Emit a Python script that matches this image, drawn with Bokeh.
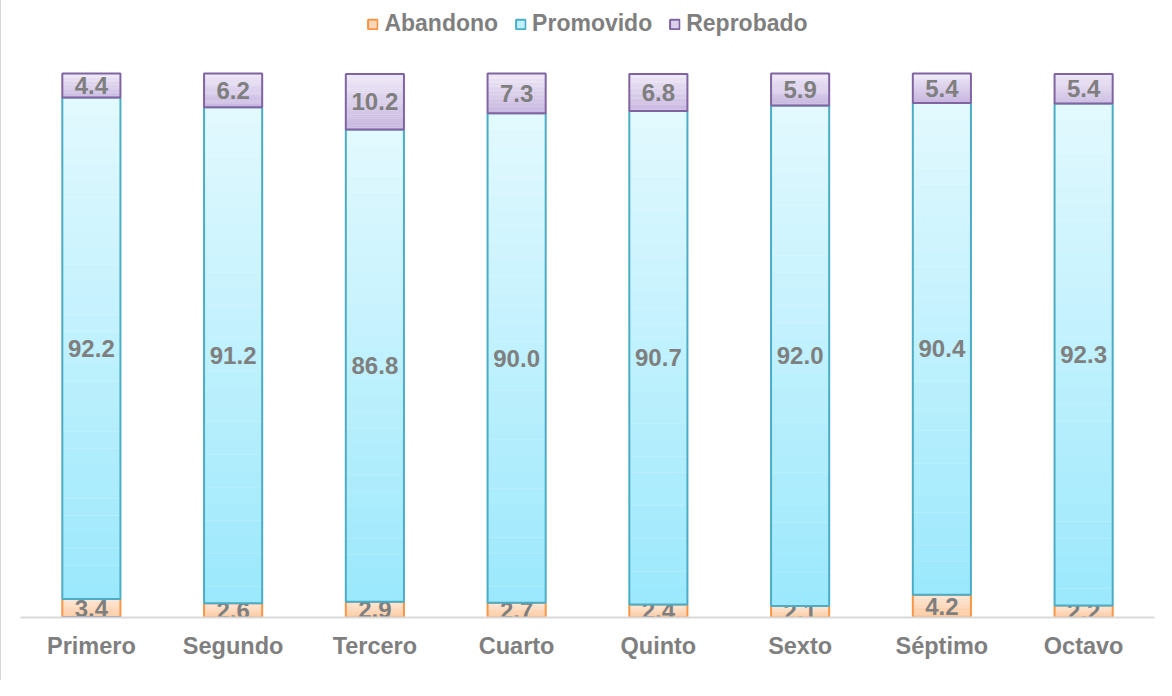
import numpy as np
from bokeh.plotting import figure
from bokeh.models import ColumnDataSource, Legend, LegendItem, Range1d
from bokeh.core.properties import value
from bokeh.embed import file_html
from bokeh.resources import INLINE

categories = ["Primero", "Segundo", "Tercero", "Cuarto", "Quinto", "Sexto", "Séptimo", "Octavo"]
abandono = [3.4, 2.6, 2.9, 2.7, 2.4, 2.1, 4.2, 2.2]
promovido = [92.2, 91.2, 86.8, 90.0, 90.7, 92.0, 90.4, 92.3]
reprobado = [4.4, 6.2, 10.2, 7.3, 6.8, 5.9, 5.4, 5.4]

series_names = ["Abandono", "Promovido", "Reprobado"]
series_vals = [abandono, promovido, reprobado]
grad_top = ["#fee6d4", "#e3f9fe", "#efe9f7"]
grad_bot = ["#fbc69b", "#9be8fd", "#c7b6df"]
borders = ["#f79646", "#4bacc6", "#8064a2"]

FONT = "Liberation Sans"
GRAY = "#7f7f7f"
BAR_W = 0.41

p = figure(width=1156, height=680, x_range=categories, y_range=Range1d(0, 113.42),
           output_backend="svg", toolbar_location=None,
           min_border_left=19, min_border_right=3, min_border_top=0, min_border_bottom=63,
           styles={"border-left": "1px solid #d9d9d9"})
p.outline_line_color = None
p.xgrid.grid_line_color = None
p.ygrid.grid_line_color = None
p.yaxis.visible = False
p.xaxis.axis_line_color = "#d9d9d9"
p.xaxis.axis_line_width = 2
p.xaxis.major_tick_line_color = None
p.xaxis.minor_tick_line_color = None
p.xaxis.major_label_text_font = FONT
p.xaxis.major_label_text_font_size = "23.5px"
p.xaxis.major_label_text_font_style = "bold"
p.xaxis.major_label_text_color = GRAY
p.xaxis.major_label_standoff = 9


def hex2rgb(h):
    h = h.lstrip("#")
    return np.array([int(h[i:i + 2], 16) for i in (0, 2, 4)], dtype=float)


def rgb2hex(c):
    return "#%02x%02x%02x" % tuple(int(round(v)) for v in c)


N = 30
base = np.zeros(len(categories))
legend_items = []
for name, vals, ct, cb, bc in zip(series_names, series_vals, grad_top, grad_bot, borders):
    vals = np.array(vals, dtype=float)
    top = base + vals
    xs, bots, tops, cols = [], [], [], []
    t_rgb, b_rgb = hex2rgb(ct), hex2rgb(cb)
    for i, cat in enumerate(categories):
        edges = np.linspace(base[i], top[i], N + 1)
        for k in range(N):
            frac = (k + 0.5) / N
            xs.append(cat)
            bots.append(edges[k])
            tops.append(edges[k + 1] + (0.05 if k < N - 1 else 0))
            cols.append(rgb2hex(b_rgb + (t_rgb - b_rgb) * frac))
    gsrc = ColumnDataSource(dict(x=xs, bottom=bots, top=tops, color=cols))
    p.vbar(x="x", bottom="bottom", top="top", width=BAR_W, source=gsrc,
           fill_color="color", line_color=None)
    src = ColumnDataSource(dict(x=categories, bottom=base.copy(), top=top.copy(),
                                mid=(base + top) / 2, label=["%.1f" % v for v in vals]))
    p.vbar(x="x", bottom="bottom", top="top", width=BAR_W, source=src,
           fill_color=None, line_color=bc, line_width=2)
    p.text(x="x", y="mid", text="label", source=src, text_align="center",
           text_baseline="middle", text_font=value(FONT), text_font_size="24px",
           text_font_style="bold", text_color=GRAY)
    mid_col = rgb2hex((t_rgb + b_rgb) / 2)
    # legend swatch renderer (placed far outside the visible range)
    dummy = p.vbar(x=[categories[0]], top=[-5000], bottom=[-5001], width=BAR_W,
                   fill_color=mid_col, line_color=bc, line_width=2)
    legend_items.append(LegendItem(label=name, renderers=[dummy]))
    base = top

legend = Legend(items=legend_items, orientation="horizontal", location="top_center",
                label_text_font=FONT, label_text_font_size="23px", label_text_font_style="bold",
                label_text_color=GRAY, glyph_width=12, glyph_height=12, label_standoff=6,
                spacing=16, border_line_color=None, background_fill_alpha=0,
                padding=0, margin=10)
p.add_layout(legend, "center")

open("out.html", "w").write(file_html(p, INLINE))
